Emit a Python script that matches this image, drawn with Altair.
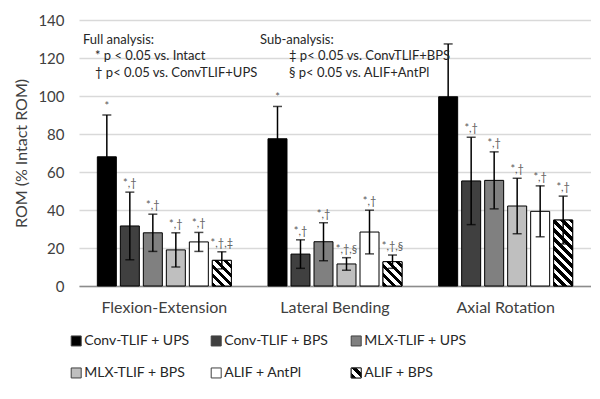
import math
import altair as alt
import pandas as pd

groups = ["Flexion-Extension", "Lateral Bending", "Axial Rotation"]
series = ["Conv-TLIF + UPS", "Conv-TLIF + BPS", "MLX-TLIF + UPS",
          "MLX-TLIF + BPS", "ALIF + AntPl", "ALIF + BPS"]
colors = ["#000000", "#404040", "#808080", "#bfbfbf", "#ffffff", "#ffffff"]

mean_fe = [68, 31.6, 28, 19, 23.2, 13.5]
mean_lb = [77.5, 16.8, 23.3, 11.6, 28.4, 12.8]
mean_ar = [99.6, 55.3, 55.6, 42.1, 39.3, 34.7]
sd_fe = [22, 17.8, 9.8, 9, 5, 4.5]
sd_lb = [17, 7.5, 10, 3.3, 11.5, 3.5]
sd_ar = [27.8, 23, 15, 14.6, 13.4, 12.6]
sig_fe = ["*", "*,†", "*,†", "*,†", "*,†", "*,†,‡"]
sig_lb = ["*", "*,†", "*,†", "*,†,§", "*,†", "*,†,§"]
sig_ar = ["", "*,†", "*,†", "*,†", "*,†", "*,†"]

legend_col = [0, 1, 2, 0, 1, 2]
legend_row = [0, 0, 0, 1, 1, 1]

note_left_head = ["Full analysis:"]
note_left_lines = ["* p < 0.05 vs. Intact", "† p< 0.05 vs. ConvTLIF+UPS"]
note_right_head = ["Sub-analysis:"]
note_right_lines = ["‡ p< 0.05 vs. ConvTLIF+BPS", "§ p< 0.05 vs. ALIF+AntPl"]
note_y = [129.5, 121, 112]

PLOT_W, PLOT_H, YMAX = 512, 266, 140
BAR_W = 19

rows = []
for g, ms, ss, ls in zip(groups, [mean_fe, mean_lb, mean_ar],
                         [sd_fe, sd_lb, sd_ar], [sig_fe, sig_lb, sig_ar]):
    for s, m, sd, lab in zip(series, ms, ss, ls):
        rows.append(dict(group=g, series=s, mean=m, lo=m - sd, hi=m + sd, label=lab))
df = pd.DataFrame(rows)

fill_scale = alt.Scale(domain=series, range=colors)

x_enc = alt.X("group:N", sort=groups,
              scale=alt.Scale(paddingInner=0, paddingOuter=0),
              axis=alt.Axis(title=None, labelAngle=0, labelFontSize=16,
                            labelPadding=13, labelColor="#404040",
                            domainColor="#8c8c8c", domainWidth=1.5,
                            ticks=False, grid=False))
xo_enc = alt.XOffset("series:N", sort=series,
                     scale=alt.Scale(paddingInner=0.174, paddingOuter=0.797))
y_scale = alt.Scale(domain=[0, YMAX])
y_axis = alt.Axis(values=list(range(0, 141, 20)), labelOverlap=False,
                  title="ROM (% Intact ROM)", titleFontSize=16,
                  titleFontWeight="normal", titleColor="#404040",
                  titlePadding=8, labelFontSize=15,
                  labelColor="#404040", labelPadding=15,
                  domain=False, ticks=False, gridColor="#d9d9d9",
                  gridWidth=1.5)


def Y(field):
    return alt.Y(field, scale=y_scale, axis=y_axis)


base = alt.Chart(df)

bars = base.mark_bar(stroke="black", strokeWidth=1).encode(
    x=x_enc, xOffset=xo_enc, y=Y("mean:Q"),
    fill=alt.Fill("series:N", scale=fill_scale, legend=None))


def hatch_gradient(w, h, period=9.0):
    n = (w + h) / period
    stops = []
    k = 0
    while k / n < 1:
        t0 = k / n
        t1 = min((k + 0.5) / n, 1)
        t2 = min((k + 1) / n, 1)
        stops += [alt.GradientStop(color="black", offset=t0),
                  alt.GradientStop(color="black", offset=t1),
                  alt.GradientStop(color="white", offset=t1),
                  alt.GradientStop(color="white", offset=t2)]
        k += 1
    s = (w + h) / (w * w + h * h)
    return alt.LinearGradient(gradient="linear", stops=stops,
                              x1=0, y1=1, x2=w * s, y2=1 - h * s)


hatch_layers = []
for g in groups:
    v = float(df[(df.group == g) & (df.series == series[5])]["mean"].iloc[0])
    h = v * PLOT_H / YMAX
    hatch_layers.append(
        base.transform_filter(
            (alt.datum.group == g) & (alt.datum.series == series[5])
        ).mark_bar(fill=hatch_gradient(BAR_W, h), stroke="black", strokeWidth=1)
        .encode(x=x_enc, xOffset=xo_enc, y=Y("mean:Q")))

err = base.mark_rule(color="black", strokeWidth=1.5).encode(
    x=x_enc, xOffset=xo_enc, y=Y("lo:Q"), y2="hi:Q")
cap_hi = base.mark_tick(color="black", thickness=1.5, size=9,
                        orient="horizontal").encode(
    x=x_enc, xOffset=xo_enc, y=Y("hi:Q"))
cap_lo = base.mark_tick(color="black", thickness=1.5, size=9,
                        orient="horizontal").encode(
    x=x_enc, xOffset=xo_enc, y=Y("lo:Q"))
sig = base.mark_text(baseline="bottom", dy=-3, fontSize=11,
                     color="#595959").encode(
    x=x_enc, xOffset=xo_enc, y=Y("hi:Q"), text="label:N")


def note_layer(lines, ys, xpx):
    d = pd.DataFrame({"t": lines, "y": ys})
    return alt.Chart(d).mark_text(align="left", baseline="middle", fontSize=13,
                                  color="#262626").encode(
        x=alt.value(xpx), y=Y("y:Q"), text="t:N")


notes = [note_layer(note_left_head, note_y[:1], 4),
         note_layer(note_left_lines, note_y[1:], 16),
         note_layer(note_right_head, note_y[:1], 181),
         note_layer(note_right_lines, note_y[1:], 210)]

top = alt.layer(bars, *hatch_layers, err, cap_hi, cap_lo, sig, *notes).properties(
    width=PLOT_W, height=PLOT_H)

ldf = pd.DataFrame({"series": series, "col": legend_col, "row": legend_row})
lx = alt.X("col:Q", scale=alt.Scale(domain=[0.02, 3.02]), axis=None)
ly = alt.Y("row:Q", scale=alt.Scale(domain=[-0.28, 1.1575], reverse=True), axis=None)
lbase = alt.Chart(ldf)
lsym = lbase.mark_square(size=100, stroke="#404040", strokeWidth=1,
                         opacity=1).encode(
    x=lx, y=ly, fill=alt.Fill("series:N", scale=fill_scale, legend=None))
lhatch = lbase.transform_filter(alt.datum.series == series[5]).mark_square(
    size=100, stroke="#202020", strokeWidth=1, opacity=1,
    fill=alt.LinearGradient(gradient="linear", x1=0, y1=1, x2=1, y2=0,
                            stops=[alt.GradientStop(color="black", offset=0),
                                   alt.GradientStop(color="black", offset=0.25),
                                   alt.GradientStop(color="white", offset=0.25),
                                   alt.GradientStop(color="white", offset=0.5),
                                   alt.GradientStop(color="black", offset=0.5),
                                   alt.GradientStop(color="black", offset=0.75),
                                   alt.GradientStop(color="white", offset=0.75),
                                   alt.GradientStop(color="white", offset=1)])
).encode(x=lx, y=ly)
ltext = lbase.mark_text(align="left", baseline="middle", dx=8, fontSize=14,
                        color="#262626").encode(x=lx, y=ly, text="series:N")
legend = alt.layer(lsym, lhatch, ltext).properties(width=420, height=46)

chart = alt.vconcat(top, legend, spacing=17).properties(
    padding={"left": 5, "top": 5, "right": 0, "bottom": 0}
).configure(font="Lato").configure_view(stroke=None)

chart.save("out.html", embed_options={"renderer": "svg", "actions": False})
